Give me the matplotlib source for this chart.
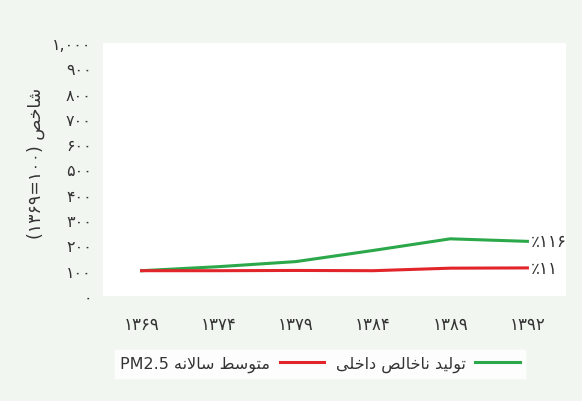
import matplotlib
matplotlib.use('Agg')
import matplotlib.pyplot as plt
import numpy as np

# index values, 1369 = 100
years = ['1369', '1374', '1379', '1384', '1389', '1392']
gdp = [100, 116, 136, 180, 226, 216]
pm25 = [100, 100, 101, 100, 110, 111]
gdp_growth = 116
pm25_growth = 11
yticks = [0, 100, 200, 300, 400, 500, 600, 700, 800, 900, 1000]

BG = '#f2f6f1'
GREEN = '#2ba84a'
RED = '#e2242b'

FA_DIGITS = str.maketrans('0123456789', '۰۱۲۳۴۵۶۷۸۹')

# presentation forms: (isolated, final, initial, medial)
FORMS = {
    'ا': ('\uFE8D', '\uFE8E'),
    'ت': ('\uFE95', '\uFE96', '\uFE97', '\uFE98'),
    'خ': ('\uFEA5', '\uFEA6', '\uFEA7', '\uFEA8'),
    'د': ('\uFEA9', '\uFEAA'),
    'س': ('\uFEB1', '\uFEB2', '\uFEB3', '\uFEB4'),
    'ش': ('\uFEB5', '\uFEB6', '\uFEB7', '\uFEB8'),
    'ص': ('\uFEB9', '\uFEBA', '\uFEBB', '\uFEBC'),
    'ط': ('\uFEC1', '\uFEC2', '\uFEC3', '\uFEC4'),
    'ل': ('\uFEDD', '\uFEDE', '\uFEDF', '\uFEE0'),
    'م': ('\uFEE1', '\uFEE2', '\uFEE3', '\uFEE4'),
    'ن': ('\uFEE5', '\uFEE6', '\uFEE7', '\uFEE8'),
    'ه': ('\uFEE9', '\uFEEA', '\uFEEB', '\uFEEC'),
    'و': ('\uFEED', '\uFEEE'),
    'ی': ('\uFBFC', '\uFBFD', '\uFBFE', '\uFBFF'),
}


def joins_forward(c):
    return c in FORMS and len(FORMS[c]) == 4


def rtl(text):
    # shape the letters and flip to visual order
    out = []
    i = 0
    while i < len(text):
        c = text[i]
        prev = text[i - 1] if i > 0 else ''
        nxt = text[i + 1] if i + 1 < len(text) else ''
        if c not in FORMS:
            out.append(c)
            i += 1
            continue
        linked = joins_forward(prev)
        if c == 'ل' and nxt == 'ا':
            out.append('\uFEFC' if linked else '\uFEFB')
            i += 2
            continue
        f = FORMS[c]
        ahead = joins_forward(c) and nxt in FORMS
        if linked and ahead:
            out.append(f[3])
        elif ahead:
            out.append(f[2])
        elif linked:
            out.append(f[1])
        else:
            out.append(f[0])
        i += 1
    return ''.join(reversed(out))


def fa(n):
    return f'{n:,}'.translate(FA_DIGITS)


plt.rcParams['font.family'] = ['DejaVu Sans']

fig = plt.figure(figsize=(5.82, 4.02), dpi=100, facecolor=BG)
ax = fig.add_axes([103 / 582, 1 - 297 / 402, 463 / 582, 253 / 402])
ax.set_facecolor('white')

x = np.arange(len(years))
ax.plot(x, gdp, color=GREEN, linewidth=2.2, label=rtl('تولید ناخالص داخلی'))
ax.plot(x, pm25, color=RED, linewidth=2.2, label='PM2.5 ' + rtl('متوسط سالانه'))

ax.text(x[-1] + 0.04, gdp[-1], '٪' + str(gdp_growth).translate(FA_DIGITS),
        ha='left', va='center', fontsize=12, color='#333333')
ax.text(x[-1] + 0.04, pm25[-1], '٪' + str(pm25_growth).translate(FA_DIGITS),
        ha='left', va='center', fontsize=12, color='#333333')

ax.set_xlim(-0.5, len(years) - 0.5)
ax.set_ylim(0, 1000)
ax.set_xticks(x)
ax.set_xticklabels([y.translate(FA_DIGITS) for y in years], fontsize=12)
ax.set_yticks(yticks)
ax.set_yticklabels([fa(v) for v in yticks], fontsize=11.5)
ax.tick_params(axis='both', length=0, labelcolor='#333333')
ax.tick_params(axis='x', pad=14)
ax.tick_params(axis='y', pad=8)
for s in ax.spines.values():
    s.set_visible(False)

ax.set_ylabel('(' + '۱۳۶۹=۱۰۰' + ') ' + rtl('شاخص'), fontsize=12.5,
              color='#333333')
ax.yaxis.set_label_coords(-0.125, 0.53)

handles, labels = ax.get_legend_handles_labels()
leg = fig.legend(handles[::-1], labels[::-1], loc='center',
                 bbox_to_anchor=(320 / 582, 1 - 365 / 402), ncol=2,
                 markerfirst=False, frameon=True, fancybox=False,
                 fontsize=11.5, handlelength=2.8, columnspacing=0.7,
                 borderpad=0.35, handletextpad=0.6)
leg.get_frame().set_facecolor('white')
leg.get_frame().set_edgecolor('white')
for t in leg.get_texts():
    t.set_color('#333333')

fig.savefig('out.png', dpi=100, facecolor=BG)
